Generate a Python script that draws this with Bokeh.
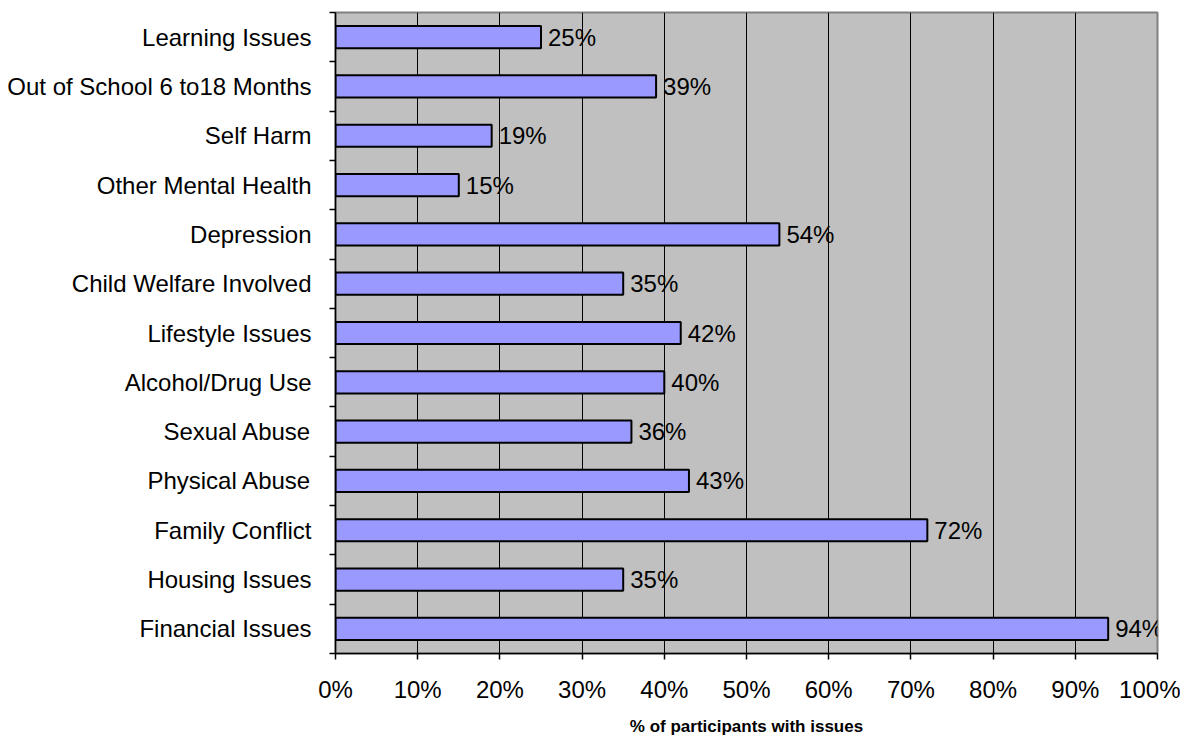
from bokeh.plotting import figure
from bokeh.models import ColumnDataSource, FixedTicker, NumeralTickFormatter, Range1d, LabelSet
from bokeh.embed import file_html
from bokeh.resources import INLINE
from bokeh.core.properties import value

categories = ["Financial Issues", "Housing Issues", "Family Conflict", "Physical Abuse",
              "Sexual Abuse", "Alcohol/Drug Use", "Lifestyle Issues", "Child Welfare Involved",
              "Depression", "Other Mental Health", "Self Harm", "Out of School 6 to18 Months",
              "Learning Issues"]
percent = [94, 35, 72, 43, 36, 40, 42, 35, 54, 15, 19, 39, 25]
x_ticks = [0, 10, 20, 30, 40, 50, 60, 70, 80, 90, 100]
x_title = "% of participants with issues"

FONT = "Liberation Sans"
FS = "24px"

n = len(categories)
ypos = [i + 0.5 for i in range(n)]
src = ColumnDataSource(dict(
    y=ypos,
    v=[p / 100 for p in percent],
    lab=[f"{p}%" for p in percent],
))

p = figure(width=1180, height=738, output_backend="svg", toolbar_location=None,
           x_range=Range1d(0, 1), y_range=Range1d(0, n),
           min_border_left=335, min_border_right=23, min_border_top=12, min_border_bottom=82)

p.background_fill_color = "#C0C0C0"
p.border_fill_color = "white"
p.outline_line_color = "#808080"
p.outline_line_width = 2

p.hbar(y="y", right="v", left=0, height=0.45, source=src,
       fill_color="#9999FF", line_color="black", line_width=2)

labels = LabelSet(x="v", y="y", text="lab", source=src, x_offset=7,
                  text_baseline="middle", text_align="left",
                  text_font=value(FONT), text_font_size=FS, text_color="black")
p.add_layout(labels)

# x axis
p.xaxis.ticker = FixedTicker(ticks=[t / 100 for t in x_ticks])
p.xaxis.formatter = NumeralTickFormatter(format="0%")
p.xaxis.major_tick_in = 0
p.xaxis.major_tick_out = 6
p.xaxis.minor_tick_line_color = None
p.xaxis.axis_line_color = "black"
p.xaxis.axis_line_width = 1.5
p.xaxis.major_tick_line_width = 1.5
p.xaxis.major_label_text_font = FONT
p.xaxis.major_label_text_font_size = FS
p.xaxis.major_label_text_color = "black"
p.xaxis.major_label_standoff = 16
p.xaxis.axis_label = x_title
p.xaxis.axis_label_text_font = FONT
p.xaxis.axis_label_text_font_style = "bold"
p.xaxis.axis_label_text_font_size = "17px"
p.xaxis.axis_label_text_color = "black"
p.xaxis.axis_label_standoff = 11

# y axis
p.yaxis.ticker = FixedTicker(ticks=ypos, minor_ticks=list(range(n + 1)))
p.yaxis.major_label_overrides = {y: c for y, c in zip(ypos, categories)}
p.yaxis.major_tick_line_color = None
p.yaxis.minor_tick_in = 0
p.yaxis.minor_tick_out = 6
p.yaxis.minor_tick_line_color = "black"
p.yaxis.minor_tick_line_width = 1.5
p.yaxis.axis_line_color = "black"
p.yaxis.axis_line_width = 1.5
p.yaxis.major_label_text_font = FONT
p.yaxis.major_label_text_font_size = FS
p.yaxis.major_label_text_color = "black"
p.yaxis.major_label_standoff = 18

# grid
p.xgrid.ticker = FixedTicker(ticks=[t / 100 for t in x_ticks[1:-1]])
p.xgrid.grid_line_color = "black"
p.xgrid.grid_line_width = 1
p.ygrid.grid_line_color = None

open("out.html", "w").write(file_html(p, INLINE))
